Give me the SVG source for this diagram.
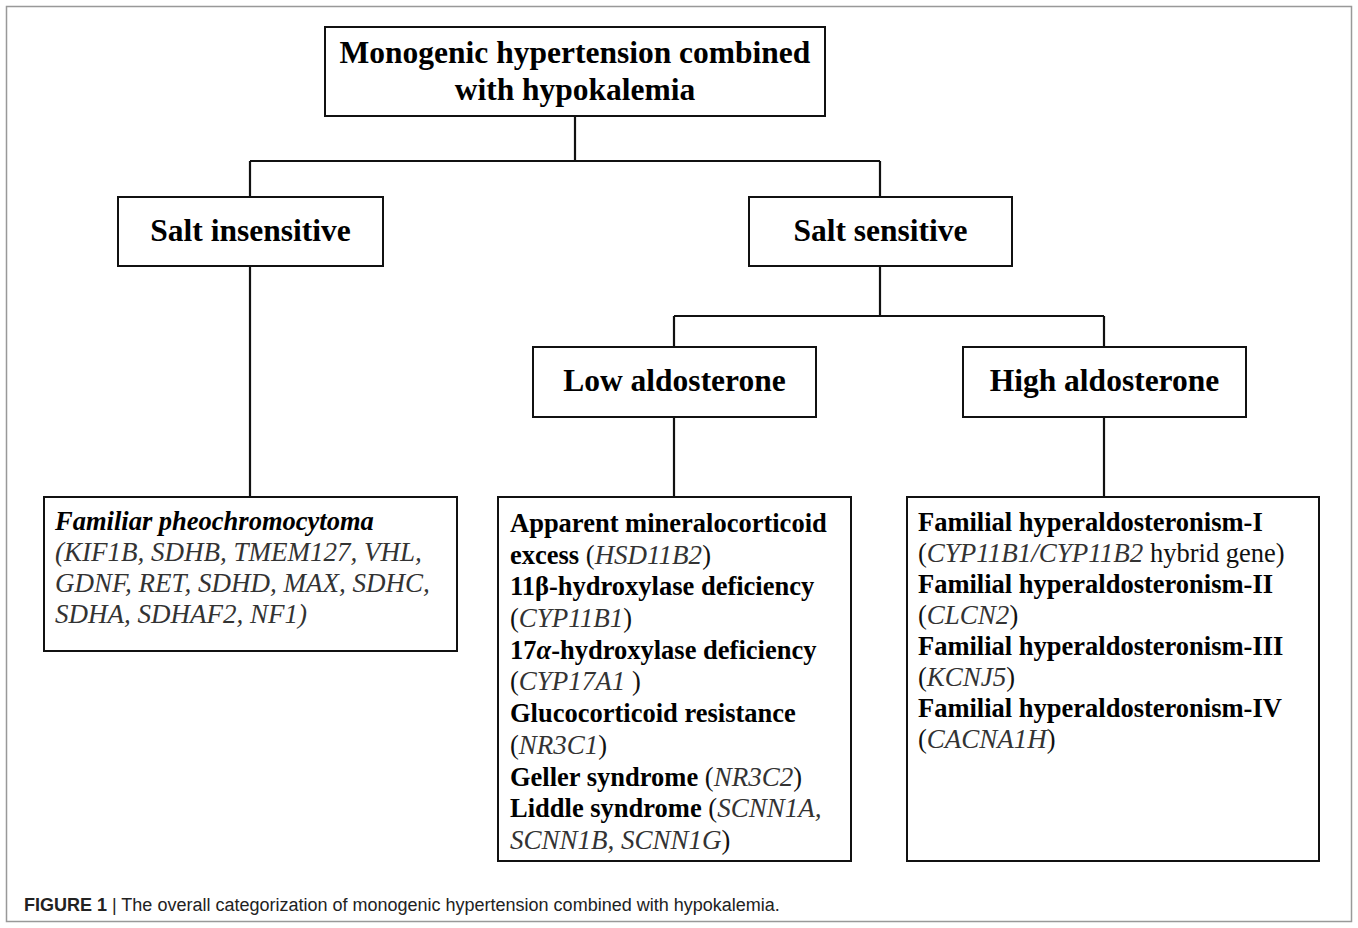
<svg xmlns="http://www.w3.org/2000/svg" width="1358" height="928" viewBox="0 0 1358 928">
<style>
.box{fill:#fff;stroke:#111;stroke-width:2}
.con{fill:none;stroke:#111;stroke-width:2.2}
.hd{font-family:"Liberation Serif","Times New Roman",serif;font-weight:bold;font-size:31.5px;fill:#000;text-anchor:middle}
.bd{font-family:"Liberation Serif","Times New Roman",serif;font-size:26.5px;fill:#000}
.b{font-weight:bold}
.g{font-style:italic;fill:#333;font-size:27px}
.r{font-weight:normal;font-style:normal;fill:#111}
.cap{font-family:"Liberation Sans",Arial,sans-serif;font-size:18px;fill:#222}
</style>
<rect x="6.5" y="6.5" width="1345" height="915" fill="#fff" stroke="#999" stroke-width="1.5"/>
<g id="connectors">
<path class="con" d="M575 116V161M250 161H880M250 161V197M880 161V197"/>
<path class="con" d="M250 266V497"/>
<path class="con" d="M880 266V316M674 316H1104M674 316V347M1104 316V347"/>
<path class="con" d="M674 417V497M1104 417V497"/>
</g>
<g id="root">
<rect class="box" x="325" y="27" width="500" height="89"/>
<text class="hd" x="575" y="63">Monogenic hypertension combined</text>
<text class="hd" x="575" y="100">with hypokalemia</text>
</g>
<g id="salt-insensitive">
<rect class="box" x="118" y="197" width="265" height="69"/>
<text class="hd" x="250.5" y="241">Salt insensitive</text>
</g>
<g id="salt-sensitive">
<rect class="box" x="749" y="197" width="263" height="69"/>
<text class="hd" x="880.5" y="241">Salt sensitive</text>
</g>
<g id="low-aldosterone">
<rect class="box" x="533" y="347" width="283" height="70"/>
<text class="hd" x="674.5" y="391">Low aldosterone</text>
</g>
<g id="high-aldosterone">
<rect class="box" x="963" y="347" width="283" height="70"/>
<text class="hd" x="1104.5" y="391">High aldosterone</text>
</g>
<g id="pheochromocytoma">
<rect class="box" x="44" y="497" width="413" height="154"/>
<text class="bd" x="55"><tspan x="55" y="530" font-weight="bold" font-style="italic">Familiar pheochromocytoma</tspan><tspan class="g" x="55" y="561">(KIF1B, SDHB, TMEM127, VHL,</tspan><tspan class="g" x="55" y="592">GDNF, RET, SDHD, MAX, SDHC,</tspan><tspan class="g" x="55" y="623">SDHA, SDHAF2, NF1)</tspan></text>
</g>
<g id="low-list">
<rect class="box" x="498" y="497" width="353" height="364"/>
<text class="bd"><tspan class="b" x="510" y="532">Apparent mineralocorticoid</tspan><tspan class="b" x="510" y="564">excess </tspan><tspan class="r">(</tspan><tspan class="g">HSD11B2</tspan><tspan class="r">)</tspan><tspan class="b" x="510" y="595">11β-hydroxylase deficiency</tspan><tspan class="r" x="510" y="627">(</tspan><tspan class="g">CYP11B1</tspan><tspan class="r">)</tspan><tspan class="b" x="510" y="659">17<tspan font-style="italic">α</tspan>-hydroxylase deficiency</tspan><tspan class="r" x="510" y="690">(</tspan><tspan class="g">CYP17A1 </tspan><tspan class="r">)</tspan><tspan class="b" x="510" y="722">Glucocorticoid resistance</tspan><tspan class="r" x="510" y="754">(</tspan><tspan class="g">NR3C1</tspan><tspan class="r">)</tspan><tspan class="b" x="510" y="786">Geller syndrome </tspan><tspan class="r">(</tspan><tspan class="g">NR3C2</tspan><tspan class="r">)</tspan><tspan class="b" x="510" y="817">Liddle syndrome </tspan><tspan class="r">(</tspan><tspan class="g">SCNN1A,</tspan><tspan class="g" x="510" y="849">SCNN1B, SCNN1G</tspan><tspan class="r">)</tspan></text>
</g>
<g id="high-list">
<rect class="box" x="907" y="497" width="412" height="364"/>
<text class="bd"><tspan class="b" x="918" y="531">Familial hyperaldosteronism-I</tspan><tspan class="r" x="918" y="562">(</tspan><tspan class="g">CYP11B1/CYP11B2</tspan><tspan class="r"> hybrid gene)</tspan><tspan class="b" x="918" y="593">Familial hyperaldosteronism-II</tspan><tspan class="r" x="918" y="624">(</tspan><tspan class="g">CLCN2</tspan><tspan class="r">)</tspan><tspan class="b" x="918" y="655">Familial hyperaldosteronism-III</tspan><tspan class="r" x="918" y="686">(</tspan><tspan class="g">KCNJ5</tspan><tspan class="r">)</tspan><tspan class="b" x="918" y="717">Familial hyperaldosteronism-IV</tspan><tspan class="r" x="918" y="748">(</tspan><tspan class="g">CACNA1H</tspan><tspan class="r">)</tspan></text>
</g>
<g id="caption">
<text class="cap" x="24" y="911"><tspan font-weight="bold">FIGURE 1</tspan> | The overall categorization of monogenic hypertension combined with hypokalemia.</text>
</g>
</svg>
